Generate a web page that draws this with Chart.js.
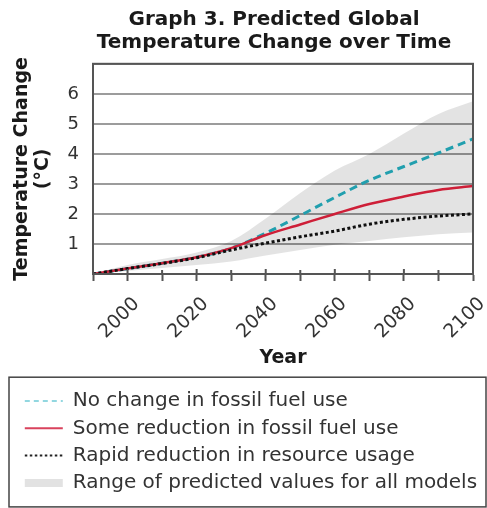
<!DOCTYPE html>
<html>
<head>
<meta charset="utf-8">
<script src="https://cdn.jsdelivr.net/npm/chart.js@4.4.1/dist/chart.umd.min.js"></script>
<style>
  html, body { margin: 0; padding: 0; background: #ffffff; }
  #wrap { width: 487px; height: 508px; }
</style>
</head>
<body>
<div id="wrap"><canvas id="chart" width="487" height="508"></canvas></div>
<script>
// Projected warming (°C above 1990) for three scenarios, plus the model spread
const years          = [1990, 2000, 2010, 2020, 2030, 2040, 2050, 2060, 2070, 2080, 2090, 2100];
const noChange       = [0, 0.18, 0.36, 0.56, 0.86, 1.36, 1.95, 2.55, 3.12, 3.58, 4.03, 4.50];
const someReduction  = [0, 0.18, 0.36, 0.56, 0.86, 1.30, 1.65, 2.00, 2.33, 2.58, 2.80, 2.93];
const rapidReduction = [0, 0.18, 0.35, 0.54, 0.80, 1.03, 1.24, 1.43, 1.66, 1.82, 1.93, 2.00];
const rangeHigh      = [0, 0.30, 0.50, 0.72, 1.10, 1.85, 2.70, 3.45, 4.00, 4.68, 5.33, 5.75];
const rangeLow       = [0, 0.10, 0.20, 0.30, 0.42, 0.62, 0.80, 0.97, 1.10, 1.22, 1.32, 1.38];

const yTickLabels = [1, 2, 3, 4, 5, 6];
const xTickLabels = [2000, 2020, 2040, 2060, 2080, 2100];

const titleLines  = ['Graph 3. Predicted Global', 'Temperature Change over Time'];
const yTitleLines = ['Temperature Change', '(°C)'];
const xTitle      = 'Year';
const seriesNames = [
  'No change in fossil fuel use',
  'Some reduction in fossil fuel use',
  'Rapid reduction in resource usage',
  'Range of predicted values for all models'
];

const FONT = 'DejaVu Sans';
const CYAN = '#26b3c4';
const RED = '#e8233f';
const BLACK = '#111111';
const BAND = 'rgba(0,0,0,0.11)';
const FRAME = '#555555';

const toPoints = vals => vals.map((v, i) => ({ x: years[i], y: v }));

Chart.defaults.font.family = FONT;

// Closed frame around the plotting area, with the year ticks poking inward
const plotFrame = {
  id: 'plotFrame',
  afterDatasetsDraw(chart) {
    const { ctx, chartArea: a } = chart;
    const xs = chart.scales.x;
    ctx.save();
    ctx.strokeStyle = FRAME;
    ctx.lineWidth = 2;
    ctx.strokeRect(a.left, a.top, a.right - a.left, a.bottom - a.top);
    ctx.beginPath();
    xs.ticks.forEach(t => {
      const px = xs.getPixelForValue(t.value);
      const len = t.value % 20 === 0 ? 5 : 4;
      ctx.moveTo(px, a.bottom);
      ctx.lineTo(px, a.bottom - len);
    });
    ctx.stroke();
    ctx.restore();
  }
};

// Box drawn around the legend; the heading sits slightly left of the plot centre
const legendFrame = {
  id: 'legendFrame',
  afterLayout(chart) {
    const t = chart.titleBlock;
    if (t) { t.left -= 18; }
  },
  afterDraw(chart) {
    const l = chart.legend;
    if (!l) return;
    const { ctx } = chart;
    ctx.save();
    ctx.strokeStyle = '#444444';
    ctx.lineWidth = 1.5;
    const top = l.top - 6.5;
    ctx.strokeRect(l.left - 8.5, top, chart.width - l.left + 7.5, l.bottom + 4 - top);
    ctx.restore();
  }
};

const legendStyles = [
  { strokeStyle: '#6fcad6', fillStyle: 'rgba(0,0,0,0)', lineWidth: 1.5, lineDash: [5, 4], pointStyle: 'line' },
  { strokeStyle: '#d9425c', fillStyle: 'rgba(0,0,0,0)', lineWidth: 2, lineDash: [], pointStyle: 'line' },
  { strokeStyle: '#222222', fillStyle: 'rgba(0,0,0,0)', lineWidth: 2, lineDash: [2.5, 2.5], pointStyle: 'line' },
  { strokeStyle: 'rgba(0,0,0,0)', fillStyle: '#e2e2e2', lineWidth: 0, lineDash: [], pointStyle: 'rect' }
];

new Chart(document.getElementById('chart'), {
  type: 'line',
  data: {
    datasets: [
      {
        label: seriesNames[3],
        data: toPoints(rangeHigh),
        borderWidth: 0,
        borderColor: 'rgba(0,0,0,0)',
        backgroundColor: BAND,
        fill: '+1',
        pointRadius: 0,
        cubicInterpolationMode: 'monotone'
      },
      {
        label: 'range-low',
        data: toPoints(rangeLow),
        borderWidth: 0,
        borderColor: 'rgba(0,0,0,0)',
        fill: false,
        pointRadius: 0,
        cubicInterpolationMode: 'monotone'
      },
      {
        label: seriesNames[2],
        data: toPoints(rapidReduction),
        borderColor: BLACK,
        borderWidth: 3,
        borderDash: [3, 2.5],
        fill: false,
        pointRadius: 0,
        cubicInterpolationMode: 'monotone'
      },
      {
        label: seriesNames[1],
        data: toPoints(someReduction),
        borderColor: RED,
        borderWidth: 2.5,
        fill: false,
        pointRadius: 0,
        cubicInterpolationMode: 'monotone'
      },
      {
        label: seriesNames[0],
        data: toPoints(noChange),
        borderColor: CYAN,
        borderWidth: 3,
        borderDash: [8, 5],
        fill: false,
        pointRadius: 0,
        cubicInterpolationMode: 'monotone'
      }
    ]
  },
  options: {
    responsive: false,
    animation: false,
    events: [],
    layout: { padding: { left: 17.5, right: 1, top: 0, bottom: 5.1 } },
    plugins: {
      title: {
        display: true,
        text: titleLines,
        fullSize: false,
        color: '#1a1a1a',
        font: { family: FONT, size: 20, weight: 'bold', lineHeight: 1.17 },
        padding: { top: 8, bottom: 9 }
      },
      legend: {
        position: 'bottom',
        align: 'start',
        labels: {
          usePointStyle: true,
          pointStyleWidth: 38,
          boxHeight: 8,
          padding: 7.3,
          color: '#333333',
          font: { family: FONT, size: 20 },
          generateLabels: () => seriesNames.map((text, i) => Object.assign({
            text,
            hidden: false,
            datasetIndex: i,
            fontColor: '#333333'
          }, legendStyles[i]))
        }
      },
      tooltip: { enabled: false }
    },
    scales: {
      x: {
        type: 'linear',
        min: years[0],
        max: years[years.length - 1],
        afterFit: s => { s.height = 109.7; s.paddingRight = 14; },
        ticks: {
          stepSize: 10,
          autoSkip: false,
          minRotation: 45,
          maxRotation: 45,
          padding: 12,
          labelOffset: 9,
          color: '#333333',
          font: { family: FONT, size: 19 },
          callback: v => (xTickLabels.includes(v) ? String(v) : '')
        },
        grid: {
          drawOnChartArea: false,
          drawTicks: true,
          tickLength: 7,
          tickWidth: 2,
          tickColor: FRAME
        },
        border: { display: true, color: FRAME, width: 2 },
        title: {
          display: true,
          text: xTitle,
          color: '#1a1a1a',
          font: { family: FONT, size: 19, weight: 'bold' },
          padding: { top: 4, bottom: 14 }
        }
      },
      y: {
        min: 0,
        max: 7,
        afterFit: s => { s.width = 75.5; },
        ticks: {
          stepSize: 1,
          padding: 14,
          color: '#333333',
          font: { family: FONT, size: 18 },
          callback: v => (yTickLabels.includes(v) ? String(v) : '')
        },
        grid: {
          drawTicks: false,
          color: '#9c9c9c',
          lineWidth: 2
        },
        border: { display: true, color: FRAME, width: 2 },
        title: {
          display: true,
          text: yTitleLines,
          color: '#1a1a1a',
          font: { family: FONT, size: 19, weight: 'bold', lineHeight: 1.1 },
          padding: { top: -5.5, bottom: 0 }
        }
      }
    }
  },
  plugins: [plotFrame, legendFrame]
});
</script>
</body>
</html>
